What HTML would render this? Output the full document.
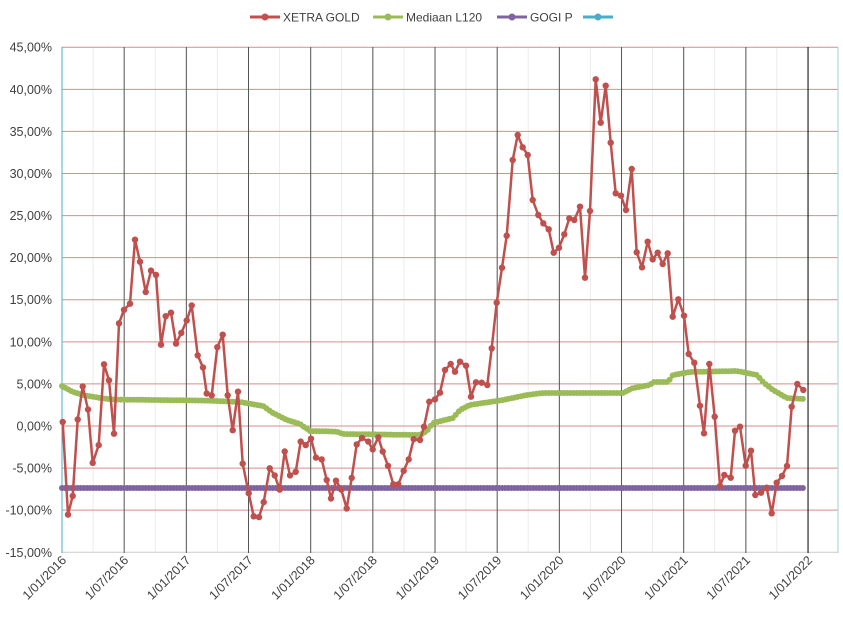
<!DOCTYPE html>
<html><head><meta charset="utf-8"><style>
html,body{margin:0;padding:0;background:#fff;}
svg{display:block;font-family:"Liberation Sans",sans-serif;}
</style></head><body>
<svg id="c" width="843" height="618" xmlns="http://www.w3.org/2000/svg"></svg>
<script>
var s='';
var X0=62,X1=838,YT=47,YB=553;
function yv(p){return 426+(-p)*8.417;}
for(var i=0;i<=24;i++){var x=62+i*31.08;s+='<line x1="'+x+'" y1="'+YT+'" x2="'+x+'" y2="'+YB+'" stroke="#ececec" stroke-width="1"/>';}
for(var p=45;p>=-15;p-=5){var y=yv(p);s+='<line x1="'+X0+'" y1="'+y+'" x2="'+X1+'" y2="'+y+'" stroke="'+(p==-15?'#cccccc':'#d98c8a')+'" stroke-width="1"/>';
 s+='<text x="52" y="'+(y+4.5)+'" font-size="12.5" text-anchor="end" fill="#404040">'+p.toFixed(2).replace('.',',')+'%</text>';}
var labs=['1/01/2016','1/07/2016','1/01/2017','1/07/2017','1/01/2018','1/07/2018','1/01/2019','1/07/2019','1/01/2020','1/07/2020','1/01/2021','1/07/2021','1/01/2022'];
for(var i=0;i<13;i++){var x=62+i*62.17;if(i>0)s+='<line x1="'+x+'" y1="'+YT+'" x2="'+x+'" y2="'+YB+'" stroke="'+(i==12?'#000':'#555')+'" stroke-width="1"/>';
 s+='<text transform="translate('+(x+5)+',561) rotate(-45)" font-size="12.5" text-anchor="end" fill="#404040">'+labs[i]+'</text>';}
s+='<line x1="62" y1="'+YT+'" x2="62" y2="'+YB+'" stroke="#4bacc6" stroke-width="1"/>';
s+='<line x1="838" y1="'+YT+'" x2="838" y2="'+YB+'" stroke="#9fd0e0" stroke-width="1"/>';
var z1=[[68,1185],[84,1445],[98,1393],[113,1178],[128,1085],[144,1150],[158,1300],[176,1250],[192,1023],[207,1068],[222,1218],[237,908],[252,870],[270,853],[285,673],[300,735],[317,820],[333,760],[348,772],[363,968],[377,888],[393,878],[408,965],[424,935],[440,900],[455,858],[473,998],[489,1032],[500,1105],[515,1110],[532,975],[548,940],[563,1110],[578,1208],[594,1100],[608,1302],[626,1385],[641,1450],[657,1452],[671,1410],[689,1315],[704,1335],[719,1375],[734,1268],[750,1335],[767,1325],[782,1240],[797,1250],[813,1232],[828,1285],[845,1290],[860,1348],[873,1400],[888,1350],[904,1375],[920,1428],[935,1342],[950,1248],[966,1230],[985,1240],[998,1262],[1015,1228],[1028,1268],[1044,1308],[1060,1360],[1075,1360],[1091,1322],[1106,1290],[1121,1233]];
var z2=[[0,1140],[12,1100],[28,1025],[45,1018],[60,998],[75,930],[92,912],[105,935],[120,905],[138,917],[153,1010],[168,967],[185,968],[202,975],[215,865],[230,728],[246,623],[260,527],[278,300],[293,225],[308,262],[323,285],[338,420],[355,465],[370,490],[386,508],[401,578],[417,563],[433,523],[448,475],[463,480],[480,440],[495,653],[510,453],[527,58],[542,188],[557,77],[572,248],[587,400],[603,407],[618,450],[635,327],[650,577],[666,622],[683,545],[698,598],[713,578],[728,612],[743,580],[758,770],[775,718],[792,767],[806,882],[823,908],[840,1037],[852,1120],[868,912],[884,1070],[900,1278],[913,1245],[932,1253],[945,1112],[960,1100],[977,1217],[993,1172],[1006,1305],[1023,1298],[1040,1283],[1055,1360],[1070,1268],[1086,1248],[1101,1218],[1115,1040],[1132,972],[1150,990]];
var R=[];z1.forEach(function(a){R.push([40+a[0]/3,47+(a[1]-132)*0.3561]);});
z2.forEach(function(a){R.push([420+a[0]/3,60+a[1]/3]);});
var G=[[62,386],[73,392],[83,395],[100,398],[113,399.5],[207,400.6],[240,402],[263,406],[273,413],[287,420],[300,424],[310,431],[337,431.6],[343,434],[420,435],[427,431],[433,423],[453,418],[460,410],[470,405],[503,400],[527,395],[543,393],[623,393],[633,388],[650,385],[653,382],[668,382],[673,375],[690,372],[737,371],[757,375],[763,382],[773,390],[787,398],[805,399]];
function interp(P,x){for(var i=1;i<P.length;i++){if(x<=P[i][0]){var a=P[i-1],b=P[i];return a[1]+(b[1]-a[1])*(x-a[0])/(b[0]-a[0]);}}return P[P.length-1][1];}
var gp='',gd='',pd='';
for(var x=62;x<=805;x+=3.1){var y=interp(G,x);gp+=x.toFixed(1)+','+y.toFixed(1)+' ';gd+='<circle cx="'+x.toFixed(1)+'" cy="'+y.toFixed(1)+'" r="3" fill="#9bbb59"/>';pd+='<circle cx="'+x.toFixed(1)+'" cy="488" r="3" fill="#8064a2"/>';}
s+='<line x1="62" y1="488" x2="805" y2="488" stroke="#8064a2" stroke-width="3"/>'+pd;
s+='<polyline points="'+gp+'" fill="none" stroke="#9bbb59" stroke-width="3"/>'+gd;
var rp='',rd='';R.forEach(function(a){rp+=a[0].toFixed(1)+','+a[1].toFixed(1)+' ';rd+='<circle cx="'+a[0].toFixed(1)+'" cy="'+a[1].toFixed(1)+'" r="3.2" fill="#c0504d"/>';});
s+='<polyline points="'+rp+'" fill="none" stroke="#c0504d" stroke-width="2.5" stroke-linejoin="round"/>'+rd;
function leg(x,c,t){s+='<line x1="'+x+'" y1="17" x2="'+(x+30)+'" y2="17" stroke="'+c+'" stroke-width="3"/><circle cx="'+(x+15)+'" cy="17" r="3.5" fill="'+c+'"/>';if(t)s+='<text x="'+(x+33)+'" y="21.5" font-size="12" fill="#404040">'+t+'</text>';}
leg(250,'#c0504d','XETRA GOLD');leg(373,'#9bbb59','Mediaan L120');leg(497,'#8064a2','GOGI P');leg(583,'#4bacc6','');
document.getElementById('c').innerHTML=s;
</script>
</body></html>
